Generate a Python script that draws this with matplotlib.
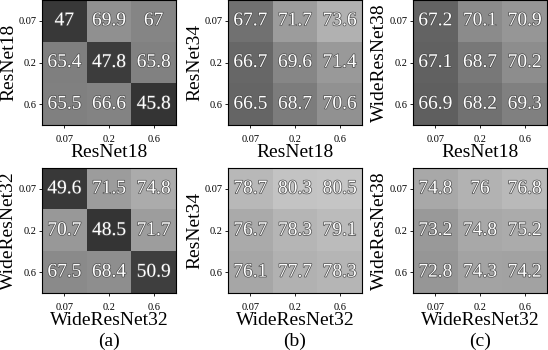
import numpy as np
import matplotlib
matplotlib.use('Agg')
import matplotlib.pyplot as plt
import matplotlib.patheffects as pe

plt.rcParams['font.family'] = ['Liberation Serif', 'DejaVu Serif']

# 坐标刻度
ticks = ['0.07', '0.2', '0.6']

# 每个子图的数值 (行 = y 轴模型, 列 = x 轴模型)
vals_a_top = [[47.0, 69.9, 67.0],
              [65.4, 47.8, 65.8],
              [65.5, 66.6, 45.8]]
vals_b_top = [[67.7, 71.7, 73.6],
              [66.7, 69.6, 71.4],
              [66.5, 68.7, 70.6]]
vals_c_top = [[67.2, 70.1, 70.9],
              [67.1, 68.7, 70.2],
              [66.9, 68.2, 69.3]]
vals_a_bot = [[49.6, 71.5, 74.8],
              [70.7, 48.5, 71.7],
              [67.5, 68.4, 50.9]]
vals_b_bot = [[78.7, 80.3, 80.5],
              [76.7, 78.3, 79.1],
              [76.1, 77.7, 78.3]]
vals_c_bot = [[74.8, 76.0, 76.8],
              [73.2, 74.8, 75.2],
              [72.8, 74.3, 74.2]]

xlabels = ['ResNet18', 'ResNet18', 'ResNet18',
           'WideResNet32', 'WideResNet32', 'WideResNet32']
ylabels = ['ResNet18', 'ResNet34', 'WideResNet38',
           'WideResNet32', 'ResNet34', 'WideResNet38']
panel_tags = ['(a)', '(b)', '(c)']

all_vals = [vals_a_top, vals_b_top, vals_c_top, vals_a_bot, vals_b_bot, vals_c_bot]
# 灰度范围 (每个子图单独估计)
vlims = [(32, 99), (57, 81), (60, 78.5), (37, 93.5), (52, 89), (55.7, 84.8)]

W, H = 548, 350
fig = plt.figure(figsize=(W / 100, H / 100), dpi=100)

# 像素位置 (left, top, width, height)
lefts = [42, 228, 413]
tops = [0, 168]
aw, ah = 134, 125

for i, vals in enumerate(all_vals):
    r, c = divmod(i, 3)
    l, t = lefts[c], tops[r]
    ax = fig.add_axes([l / W, 1 - (t + ah) / H, aw / W, ah / H])
    arr = np.array(vals)
    ax.imshow(arr, cmap='gray', vmin=vlims[i][0], vmax=vlims[i][1], aspect='auto')
    for y in range(3):
        for x in range(3):
            s = f'{arr[y, x]:g}'
            ax.text(x, y, s, ha='center', va='center', color='white', fontsize=14,
                    path_effects=[pe.withStroke(linewidth=1.0, foreground='0.3')])
    ax.set_xticks(range(3))
    ax.set_yticks(range(3))
    ax.set_xticklabels(ticks, fontsize=7.5)
    ax.set_yticklabels(ticks, fontsize=7.5)
    ax.tick_params(axis='both', length=2, width=0.6, pad=2)
    ax.tick_params(axis='x', pad=5)
    ax.set_xlabel(xlabels[i], fontsize=14, labelpad=0)
    ax.set_ylabel(ylabels[i], fontsize=14, labelpad=1)
    for sp in ax.spines.values():
        sp.set_linewidth(0.8)
    if r == 1:
        ax.text(0.5, -0.39, panel_tags[c], transform=ax.transAxes,
                ha='center', va='center', fontsize=14)

plt.savefig('out.png', dpi=100)
